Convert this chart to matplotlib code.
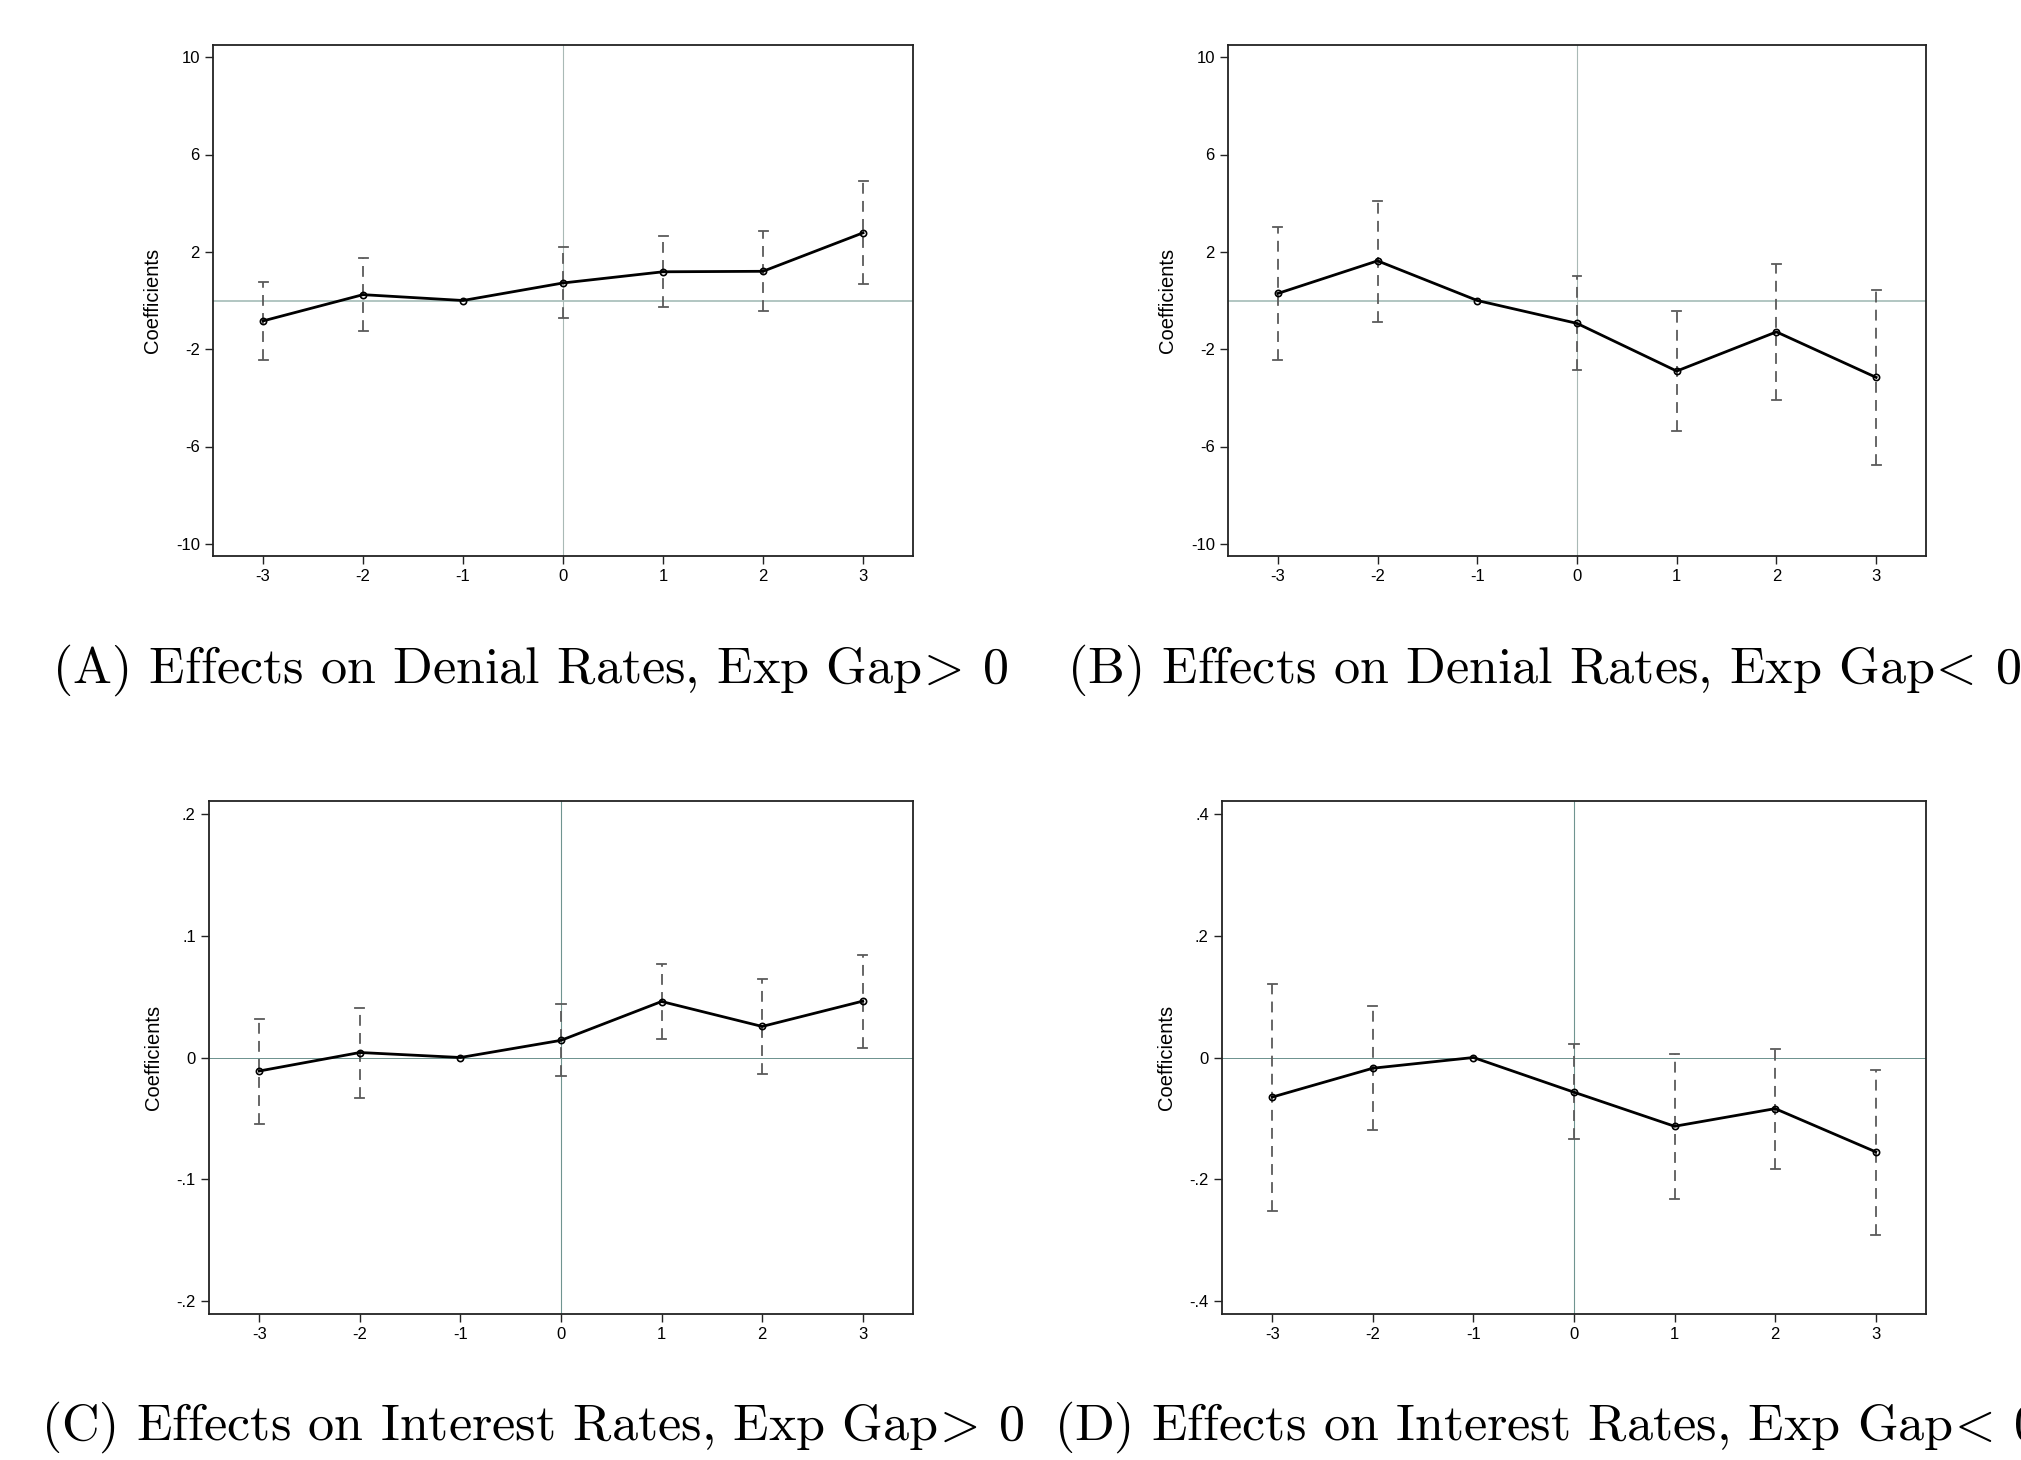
import matplotlib
matplotlib.use("Agg")
import matplotlib.pyplot as plt

plt.rcParams['font.family'] = ['Liberation Sans', 'DejaVu Sans']
plt.rcParams['mathtext.fontset'] = 'cm'

periods = [-3, -2, -1, 0, 1, 2, 3]

# (A) denial rates, exp gap > 0
coef_a = [-0.84, 0.24, 0.0, 0.72, 1.18, 1.20, 2.78]
lo_a = [-2.46, -1.25, 0.0, -0.71, -0.25, -0.43, 0.66]
hi_a = [0.78, 1.74, 0.0, 2.18, 2.65, 2.85, 4.90]

# (B) denial rates, exp gap < 0
coef_b = [0.29, 1.63, 0.0, -0.94, -2.90, -1.29, -3.16]
lo_b = [-2.43, -0.87, 0.0, -2.87, -5.37, -4.09, -6.76]
hi_b = [3.04, 4.10, 0.0, 1.00, -0.43, 1.49, 0.44]

# (C) interest rates, exp gap > 0
coef_c = [-0.0111, 0.0041, 0.0, 0.0141, 0.0460, 0.0255, 0.0463]
lo_c = [-0.0548, -0.0334, 0.0, -0.0152, 0.0150, -0.0138, 0.0079]
hi_c = [0.0320, 0.0410, 0.0, 0.0437, 0.0768, 0.0648, 0.0842]

# (D) interest rates, exp gap < 0
coef_d = [-0.065, -0.0176, 0.0, -0.057, -0.113, -0.084, -0.155]
lo_d = [-0.252, -0.119, 0.0, -0.134, -0.233, -0.183, -0.292]
hi_d = [0.121, 0.084, 0.0, 0.023, 0.0065, 0.0147, -0.021]

ticks_top = [-10, -6, -2, 2, 6, 10]
ticks_c = [-0.2, -0.1, 0, 0.1, 0.2]
ticks_d = [-0.4, -0.2, 0, 0.2, 0.4]

captions = [
    r"(A) Effects on Denial Rates, Exp Gap$\!>\!$ 0",
    r"(B) Effects on Denial Rates, Exp Gap$\!<\!$ 0",
    r"(C) Effects on Interest Rates, Exp Gap$\!>\!$ 0",
    r"(D) Effects on Interest Rates, Exp Gap$\!<\!$ 0",
]


def fmt_tick(v):
    if v == 0:
        return "0"
    if abs(v) >= 1:
        return str(int(v))
    s = ("%.1f" % v).replace("0.", ".")
    return s


fig = plt.figure(figsize=(20.21, 14.60), dpi=100)

W, H = 2021, 1460
boxes = [(213, 45, 913, 556), (1228, 45, 1926, 556),
         (209, 801, 913, 1314), (1222, 801, 1926, 1314)]
panels = [
    (coef_a, lo_a, hi_a, ticks_top, 10.5, "#b3c7c3", 2.0),
    (coef_b, lo_b, hi_b, ticks_top, 10.5, "#b3c7c3", 2.0),
    (coef_c, lo_c, hi_c, ticks_c, 0.2107, "#6f9490", 1.0),
    (coef_d, lo_d, hi_d, ticks_d, 0.4214, "#6f9490", 1.0),
]

for i, (coef, lo, hi, yt, ylim, refcol, hw) in enumerate(panels):
    x0, y0, x1, y1 = boxes[i]
    ax = fig.add_axes([x0 / W, 1 - y1 / H, (x1 - x0) / W, (y1 - y0) / H])
    ax.axhline(0, color=refcol, lw=hw * 0.72, zorder=1)
    vcol = "#a9b9b6" if i < 2 else "#6f9490"
    ax.axvline(0, color=vcol, lw=0.8, zorder=1)
    for j, p in enumerate(periods):
        if lo[j] == hi[j]:
            continue
        ax.plot([p, p], [lo[j], hi[j]], color="#5a5a5a", lw=1.3,
                dashes=(6, 4), zorder=2)
        ax.plot([p - 0.045, p + 0.045], [lo[j], lo[j]], color="#5a5a5a", lw=1.3, zorder=2)
        ax.plot([p - 0.045, p + 0.045], [hi[j], hi[j]], color="#5a5a5a", lw=1.3, zorder=2)
    ax.plot(periods, coef, color="black", lw=2.0, marker="o", ms=4.5,
            mfc="none", mec="black", mew=1.2, zorder=3)
    ax.set_xlim(-3.5, 3.5)
    ax.set_ylim(-ylim, ylim)
    ax.set_xticks(periods)
    ax.set_xticklabels([str(p) for p in periods])
    ax.set_yticks(yt)
    ax.set_yticklabels([fmt_tick(v) for v in yt])
    ax.tick_params(axis="both", direction="out", length=6, width=1,
                   labelsize=12, color="#222222")
    ax.set_ylabel("Coefficients", fontsize=14.5, labelpad=10)
    for sp in ax.spines.values():
        sp.set_color("#222222")
        sp.set_linewidth(1.3)

cap_pos = [(52, 670), (1067, 670), (41, 1427), (1054, 1427)]
for (cx, cy), txt in zip(cap_pos, captions):
    fig.text(cx / W, 1 - cy / H, txt, fontsize=37.5, family="cmr10",
             ha="left", va="center")

fig.savefig("out.png", dpi=100)
